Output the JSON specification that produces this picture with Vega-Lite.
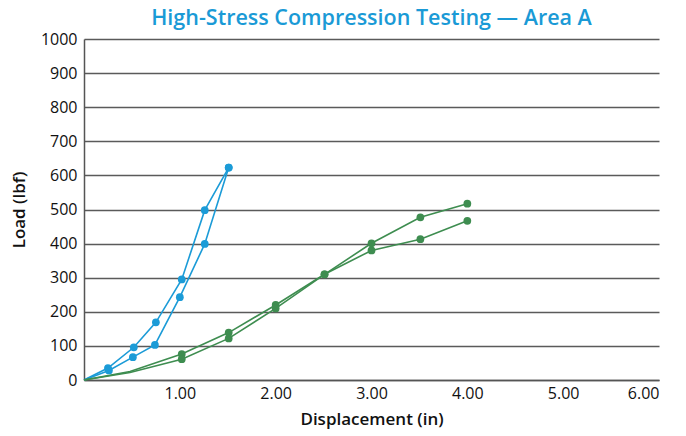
{
  "$schema": "https://vega.github.io/schema/vega-lite/v6.json",
  "autosize": {"type": "none"},
  "width": 575,
  "height": 341,
  "padding": {"left": 84, "top": 39, "right": 27, "bottom": 56},
  "background": "white",
  "title": {
    "text": "High-Stress Compression Testing — Area A",
    "color": "#1a9ad6",
    "font": "Open Sans",
    "fontSize": 21.5,
    "fontWeight": 600,
    "anchor": "middle",
    "offset": 2
  },
  "config": {
    "view": {"stroke": null},
    "axis": {"labelFont": "Open Sans", "titleFont": "Open Sans", "labelColor": "#111", "titleColor": "#111"}
  },
  "data": {
    "values": [
      {"series": "Blue 1", "group": "Blue", "disp": 0, "load": 0},
      {"series": "Blue 1", "group": "Blue", "disp": 0.25, "load": 35},
      {"series": "Blue 1", "group": "Blue", "disp": 0.52, "load": 96},
      {"series": "Blue 1", "group": "Blue", "disp": 0.75, "load": 169},
      {"series": "Blue 1", "group": "Blue", "disp": 1.02, "load": 295},
      {"series": "Blue 1", "group": "Blue", "disp": 1.26, "load": 498},
      {"series": "Blue 1", "group": "Blue", "disp": 1.51, "load": 623},
      {"series": "Blue 2", "group": "Blue", "disp": 0, "load": 0},
      {"series": "Blue 2", "group": "Blue", "disp": 0.26, "load": 28},
      {"series": "Blue 2", "group": "Blue", "disp": 0.51, "load": 67},
      {"series": "Blue 2", "group": "Blue", "disp": 0.74, "load": 103},
      {"series": "Blue 2", "group": "Blue", "disp": 1.0, "load": 243},
      {"series": "Blue 2", "group": "Blue", "disp": 1.26, "load": 399},
      {"series": "Blue 2", "group": "Blue", "disp": 1.51, "load": 623},
      {"series": "Green 1", "group": "Green", "disp": 0, "load": 0},
      {"series": "Green 1", "group": "Green", "disp": 0.48, "load": 25},
      {"series": "Green 1", "group": "Green", "disp": 1.02, "load": 76},
      {"series": "Green 1", "group": "Green", "disp": 1.51, "load": 139},
      {"series": "Green 1", "group": "Green", "disp": 2.0, "load": 220},
      {"series": "Green 1", "group": "Green", "disp": 2.51, "load": 310},
      {"series": "Green 1", "group": "Green", "disp": 3.0, "load": 380},
      {"series": "Green 1", "group": "Green", "disp": 3.51, "load": 413},
      {"series": "Green 1", "group": "Green", "disp": 4.0, "load": 467},
      {"series": "Green 2", "group": "Green", "disp": 0, "load": 0},
      {"series": "Green 2", "group": "Green", "disp": 0.48, "load": 22},
      {"series": "Green 2", "group": "Green", "disp": 1.02, "load": 61},
      {"series": "Green 2", "group": "Green", "disp": 1.51, "load": 122},
      {"series": "Green 2", "group": "Green", "disp": 2.0, "load": 210},
      {"series": "Green 2", "group": "Green", "disp": 2.51, "load": 310},
      {"series": "Green 2", "group": "Green", "disp": 3.0, "load": 401},
      {"series": "Green 2", "group": "Green", "disp": 3.51, "load": 477},
      {"series": "Green 2", "group": "Green", "disp": 4.0, "load": 517}
    ]
  },
  "encoding": {
    "x": {
      "field": "disp", "type": "quantitative",
      "scale": {"domain": [0, 6], "nice": false},
      "axis": {
        "title": "Displacement (in)", "values": [1, 2, 3, 4, 5, 6], "format": ".2f",
        "grid": false, "ticks": false, "domainColor": "#555", "domainWidth": 1.5,
        "labelFontSize": 16, "labelPadding": 5, "titleFontSize": 17, "titleFontWeight": 600, "titlePadding": 10
      }
    },
    "y": {
      "field": "load", "type": "quantitative",
      "scale": {"domain": [0, 1000], "nice": false},
      "axis": {
        "title": "Load (lbf)", "values": [0, 100, 200, 300, 400, 500, 600, 700, 800, 900, 1000],
        "format": "d",
        "grid": true, "gridColor": "#5a5a5a", "gridWidth": 1.5,
        "ticks": false,
        "domainColor": "#555", "domainWidth": 1.5,
        "labelFontSize": 16, "labelPadding": 7, "titleFontSize": 17, "titleFontWeight": 600, "titlePadding": 12
      }
    },
    "color": {
      "field": "group", "type": "nominal",
      "scale": {"domain": ["Blue", "Green"], "range": ["#1b9bd7", "#3e8d50"]},
      "legend": null
    },
    "detail": {"field": "series", "type": "nominal"}
  },
  "layer": [
    {"mark": {"type": "line", "strokeWidth": 1.6}},
    {
      "transform": [{"filter": "datum.disp > 0 && !(datum.group == 'Green' && datum.disp < 0.6)"}],
      "mark": {"type": "circle", "size": 60, "opacity": 1}
    }
  ]
}
